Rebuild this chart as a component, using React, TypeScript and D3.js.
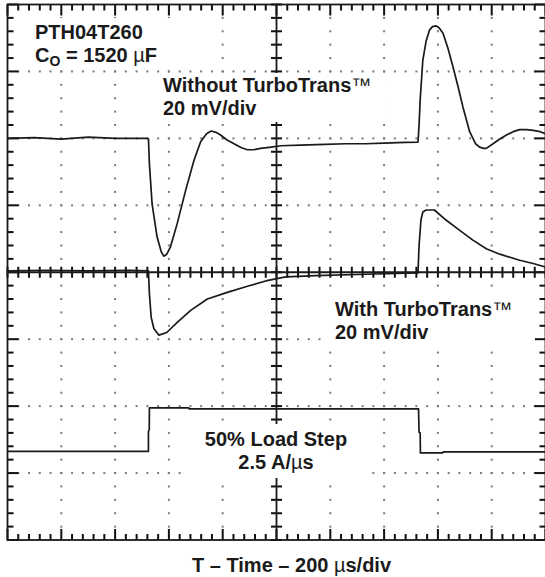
import React from "react";
import * as d3 from "d3";

const W = 545;
const H = 577;
const X_DIVS = 10;
const Y_DIVS = 8;
const SUB = 5;
const TIME_PER_DIV = 200; // µs/div

// Trace 1: Without TurboTrans (time µs, level in screen divisions from bottom)
const withoutTime = [0, 100, 200, 300, 400, 520, 524, 527.5, 537.5, 556, 572, 581, 592, 606, 631, 662, 693, 718, 740, 757, 775, 792, 815, 842, 870, 892, 915, 941, 980, 1016, 1090, 1180, 1258, 1330, 1400, 1480, 1526, 1530, 1534, 1544, 1556, 1569, 1580, 1594, 1605, 1619, 1637, 1656, 1675, 1693, 1718, 1740, 1755, 1770, 1780, 1805, 1830, 1855, 1880, 1904, 1930, 1954, 1980, 2000];
const withoutLevel = [6.0, 6.01, 5.99, 6.02, 6.0, 6.0, 5.99, 5.62, 5.02, 4.53, 4.3, 4.24, 4.27, 4.38, 4.73, 5.22, 5.67, 5.95, 6.07, 6.11, 6.09, 6.05, 5.98, 5.92, 5.86, 5.83, 5.83, 5.85, 5.87, 5.89, 5.9, 5.91, 5.92, 5.92, 5.93, 5.94, 5.945, 6.2, 6.57, 7.17, 7.45, 7.62, 7.67, 7.68, 7.65, 7.57, 7.35, 7.07, 6.77, 6.47, 6.1, 5.92, 5.87, 5.85, 5.85, 5.92, 5.99, 6.05, 6.1, 6.13, 6.13, 6.12, 6.1, 6.07];

// Trace 2: With TurboTrans
const withTime = [0, 150, 300, 450, 524, 527.5, 534, 544, 563, 592, 631, 681, 743, 817, 892, 960, 1034, 1146, 1332, 1526, 1530, 1537, 1544, 1556, 1587, 1630, 1680, 1730, 1780, 1830, 1904, 1954, 2000];
const withLevel = [4.02, 4.03, 4.02, 4.03, 4.02, 3.68, 3.33, 3.16, 3.06, 3.1, 3.25, 3.43, 3.6, 3.7, 3.79, 3.87, 3.93, 3.95, 3.97, 3.99, 4.4, 4.78, 4.9, 4.93, 4.93, 4.78, 4.63, 4.48, 4.35, 4.27, 4.18, 4.13, 4.08];

// Trace 3: 50% load step
const loadTime = [0, 523.8, 524, 527, 527.5, 674, 675, 1528, 1530, 1534, 1535, 1618, 1620, 2000];
const loadLevel = [1.325, 1.325, 1.62, 1.65, 1.974, 1.974, 1.959, 1.959, 1.61, 1.6, 1.301, 1.301, 1.316, 1.316];

const FONT = "'Liberation Sans', Arial, Helvetica, sans-serif";
const INK = "#1a1a1a";

export default function App() {
  const left = 7.5, right = 545.5, top = 4.5, bottom = 540;
  const x = d3.scaleLinear().domain([0, X_DIVS * TIME_PER_DIV]).range([left, right]);
  const y = d3.scaleLinear().domain([0, Y_DIVS]).range([bottom, top]);
  const line = d3.line<[number, number]>().x((d) => x(d[0])).y((d) => y(d[1]));

  const zip = (a: number[], b: number[]) => a.map((t, i) => [t, b[i]] as [number, number]);

  const xMinor = d3.range(0, X_DIVS * SUB + 1).map((i) => (i * TIME_PER_DIV) / SUB);
  const yMinor = d3.range(0, Y_DIVS * SUB + 1).map((i) => i / SUB);
  const xMajor = d3.range(1, X_DIVS).filter((i) => i !== X_DIVS / 2).map((i) => i * TIME_PER_DIV);
  const yMajor = d3.range(1, Y_DIVS).filter((i) => i !== Y_DIVS / 2);
  const cx = x((X_DIVS / 2) * TIME_PER_DIV);
  const cy = y(Y_DIVS / 2);

  const dots: any[] = [];
  yMajor.forEach((lv) => {
    xMinor.forEach((t, i) => {
      if (i === 0 || i === xMinor.length - 1) return;
      dots.push(<rect key={`h${lv}-${i}`} x={x(t) - 1} y={y(lv) - 1} width={2} height={2} fill="#7a7a7a" />);
    });
  });
  xMajor.forEach((t) => {
    yMinor.forEach((lv, i) => {
      if (i === 0 || i === yMinor.length - 1) return;
      dots.push(<rect key={`v${t}-${i}`} x={x(t) - 1} y={y(lv) - 1} width={2} height={2} fill="#7a7a7a" />);
    });
  });

  const TW = 2;
  const ticks: any[] = [];
  xMinor.forEach((t, i) => {
    const len = i % SUB === 0 ? 11 : 6;
    const xx = x(t) - TW / 2;
    ticks.push(<rect key={`tt${i}`} x={xx} y={top} width={TW} height={len} />);
    ticks.push(<rect key={`tb${i}`} x={xx} y={bottom - len} width={TW} height={len} />);
    ticks.push(<rect key={`tc${i}`} x={xx} y={cy - 5.5} width={TW} height={11} />);
  });
  yMinor.forEach((lv, i) => {
    const len = i % SUB === 0 ? 11 : 6;
    const yy = y(lv) - TW / 2;
    ticks.push(<rect key={`tl${i}`} x={left} y={yy} width={len} height={TW} />);
    ticks.push(<rect key={`tr${i}`} x={right - len} y={yy} width={len} height={TW} />);
    ticks.push(<rect key={`tv${i}`} x={cx - 5.5} y={yy} width={11} height={TW} />);
  });

  const txt = { fontFamily: FONT, fontWeight: 700, fontSize: 20, fill: INK } as const;

  return (
    <svg width={W} height={H} style={{ position: "absolute", left: 0, top: 0, background: "#fff" }}>
      <rect x={0} y={0} width={W} height={H} fill="#fff" />
      <g>{dots}</g>
      <g fill="#111">{ticks}</g>
      <line x1={left} x2={right} y1={cy} y2={cy} stroke={INK} strokeWidth={1.8} />
      <line x1={cx} x2={cx} y1={top} y2={bottom} stroke={INK} strokeWidth={1.8} />
      <rect x={left} y={top} width={right - left} height={bottom - top} fill="none" stroke={INK} strokeWidth={1.8} />

      {/* label backgrounds */}
      <rect x={28} y={18} width={142} height={50} fill="#fff" />
      <rect x={158} y={73} width={227} height={49} fill="#fff" />
      <rect x={322} y={292} width={213} height={55} fill="#fff" />
      <rect x={182} y={424} width={186} height={54} fill="#fff" />

      <g fill="none" stroke={INK} strokeWidth={1.7} strokeLinejoin="round">
        <path d={line(zip(withoutTime, withoutLevel)) || ""} />
        <path d={line(zip(withTime, withLevel)) || ""} />
        <path d={line(zip(loadTime, loadLevel)) || ""} />
      </g>

      <text x={35} y={39} {...txt}>PTH04T260</text>
      <text x={35} y={61.5} {...txt}>
        C<tspan fontSize={14} dy={4}>O</tspan>
        <tspan dy={-4}> = 1520 </tspan>
        <tspan fontWeight={400}>µ</tspan>F
      </text>

      <text x={163} y={91.5} {...txt}>
        Without TurboTrans<tspan fontWeight={400}>™</tspan>
      </text>
      <text x={163} y={114.5} {...txt}>20 mV/div</text>

      <text x={335} y={316} {...txt}>
        With TurboTrans<tspan fontWeight={400}>™</tspan>
      </text>
      <text x={335} y={339} {...txt}>20 mV/div</text>

      <text x={276} y={446} textAnchor="middle" {...txt}>50% Load Step</text>
      <text x={276} y={469} textAnchor="middle" {...txt}>
        2.5 A/<tspan fontWeight={400}>µ</tspan>s
      </text>

      <text x={192} y={572} {...txt}>
        T – Time – 200 <tspan fontWeight={400}>µ</tspan>s/div
      </text>
    </svg>
  );
}
